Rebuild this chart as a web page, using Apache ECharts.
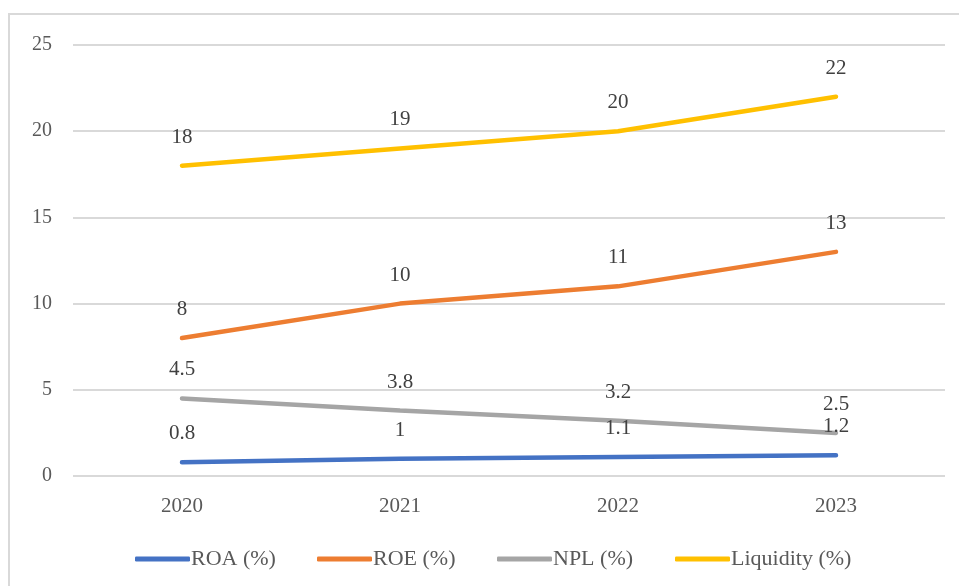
<!DOCTYPE html>
<html>
<head>
<meta charset="utf-8">
<script src="https://cdn.jsdelivr.net/npm/echarts@6/dist/echarts.min.js"></script>
<style>html,body{margin:0;padding:0;background:#fff}#c{width:959px;height:586px}</style>
</head>
<body>
<div id="c"></div>
<script>
const categories = ['2020', '2021', '2022', '2023'];
const roa = [0.8, 1, 1.1, 1.2];
const roe = [8, 10, 11, 13];
const npl = [4.5, 3.8, 3.2, 2.5];
const liquidity = [18, 19, 20, 22];
const seriesNames = ['ROA (%)', 'ROE (%)', 'NPL (%)', 'Liquidity (%)'];
const yTicks = { min: 0, max: 25, interval: 5 };

const font = '"Liberation Serif", "Times New Roman", serif';
function mk(name, data, color) {
  return {
    name, type: 'line', data, symbol: 'circle', symbolSize: 0, showSymbol: true,
    lineStyle: { color, width: 4.5, cap: 'round' },
    itemStyle: { color },
    label: { show: true, position: 'top', distance: 18, fontFamily: font, fontSize: 21, color: '#404040' },
    animation: false
  };
}
const legendLefts = [130, 312, 492, 670];
const chart = echarts.init(document.getElementById('c'));
chart.setOption({
  animation: false,
  graphic: [{ type: 'rect', shape: { x: 9, y: 14, width: 960, height: 600 }, style: { fill: 'none', stroke: '#d9d9d9', lineWidth: 2 }, silent: true }],
  grid: { left: 73, right: 14, top: 45, bottom: 110 },
  xAxis: {
    type: 'category', data: categories, boundaryGap: true,
    axisLine: { show: false }, axisTick: { show: false },
    axisLabel: { fontFamily: font, fontSize: 21, color: '#595959', margin: 20 }
  },
  yAxis: {
    type: 'value', min: yTicks.min, max: yTicks.max, interval: yTicks.interval,
    axisLine: { show: false }, axisTick: { show: false },
    axisLabel: { fontFamily: font, fontSize: 20, color: '#595959', margin: 21 },
    splitLine: { lineStyle: { color: '#d9d9d9', width: 2 } }
  },
  legend: seriesNames.map((n, i) => ({
    left: legendLefts[i], top: 543, itemWidth: 55, itemHeight: 5, icon: 'roundRect',
    textStyle: { fontFamily: font, fontSize: 22, color: '#595959', padding: [0, 0, 0, -4] },
    data: [n]
  })),
  series: [
    mk(seriesNames[0], roa, '#4472C4'),
    mk(seriesNames[1], roe, '#ED7D31'),
    mk(seriesNames[2], npl, '#A5A5A5'),
    mk(seriesNames[3], liquidity, '#FFC000')
  ]
});
</script>
</body>
</html>
